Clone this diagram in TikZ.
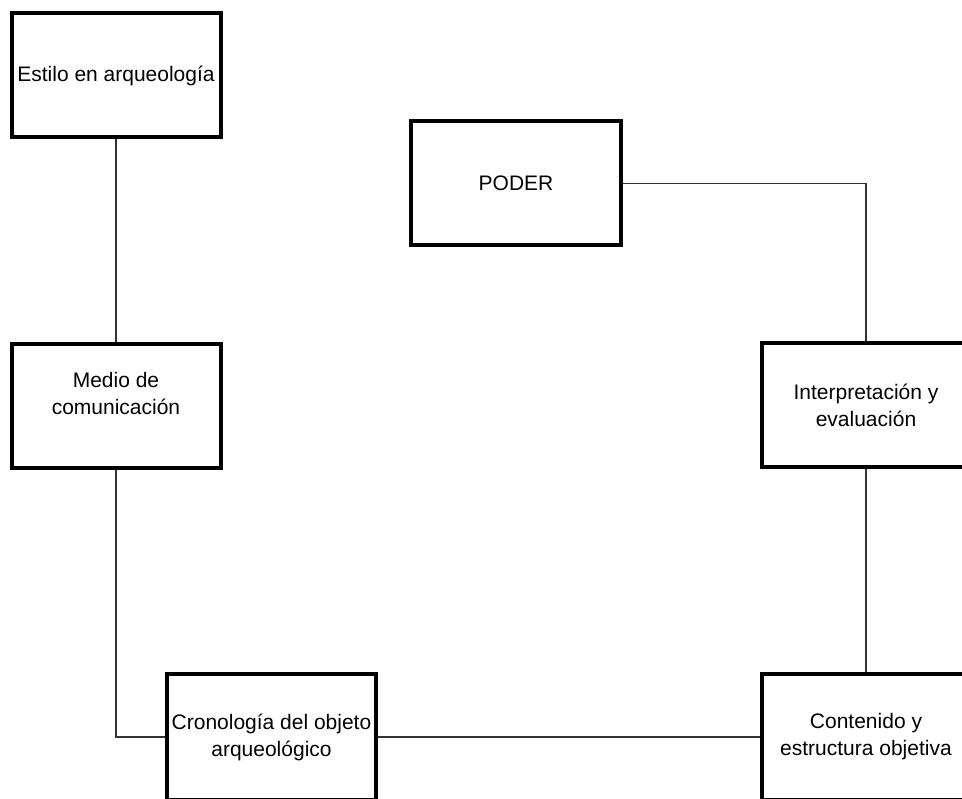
\documentclass[tikz,border=0pt]{standalone}
\usepackage{fontspec}
\setmainfont{Liberation Sans}
\begin{document}
\begin{tikzpicture}[x=1pt,y=-1pt,
  box/.style={draw=black, line width=4pt, fill=white, minimum width=209pt, minimum height=124pt,
    align=center, inner sep=0pt, font=\fontsize{21}{27}\selectfont},
  txt/.style={align=center, inner sep=0pt, font=\fontsize{21}{27}\selectfont},
  conn/.style={draw=black!80, line width=1.1pt}]
\useasboundingbox (0,0) rectangle (962,799);
\clip (0,0) rectangle (962,799);
\node[box] (estilo) at (116,75.5) {Estilo en arqueología};
\node[box, minimum width=210pt] (poder) at (516,183.5) {PODER};
\node[box] (medio) at (116,406) {};
\node[txt] (mediot) at (116,393) {Medio de\\comunicación};
\node[box] (interp) at (866,405.5) {Interpretación y\\evaluación};
\node[box, minimum height=126pt] (crono) at (271.5,737) {Cronología del objeto\\arqueológico};
\node[box, minimum height=126pt] (cont) at (866,737) {Contenido y\\estructura objetiva};
\draw[conn] (estilo.south) -- (medio.north);
\draw[conn] (poder.east) -| (interp.north);
\draw[conn] (interp.south) -- (cont.north);
\draw[conn] (medio.south) |- (crono.west);
\draw[conn] (crono.east) -- (cont.west);
\end{tikzpicture}
\end{document}
